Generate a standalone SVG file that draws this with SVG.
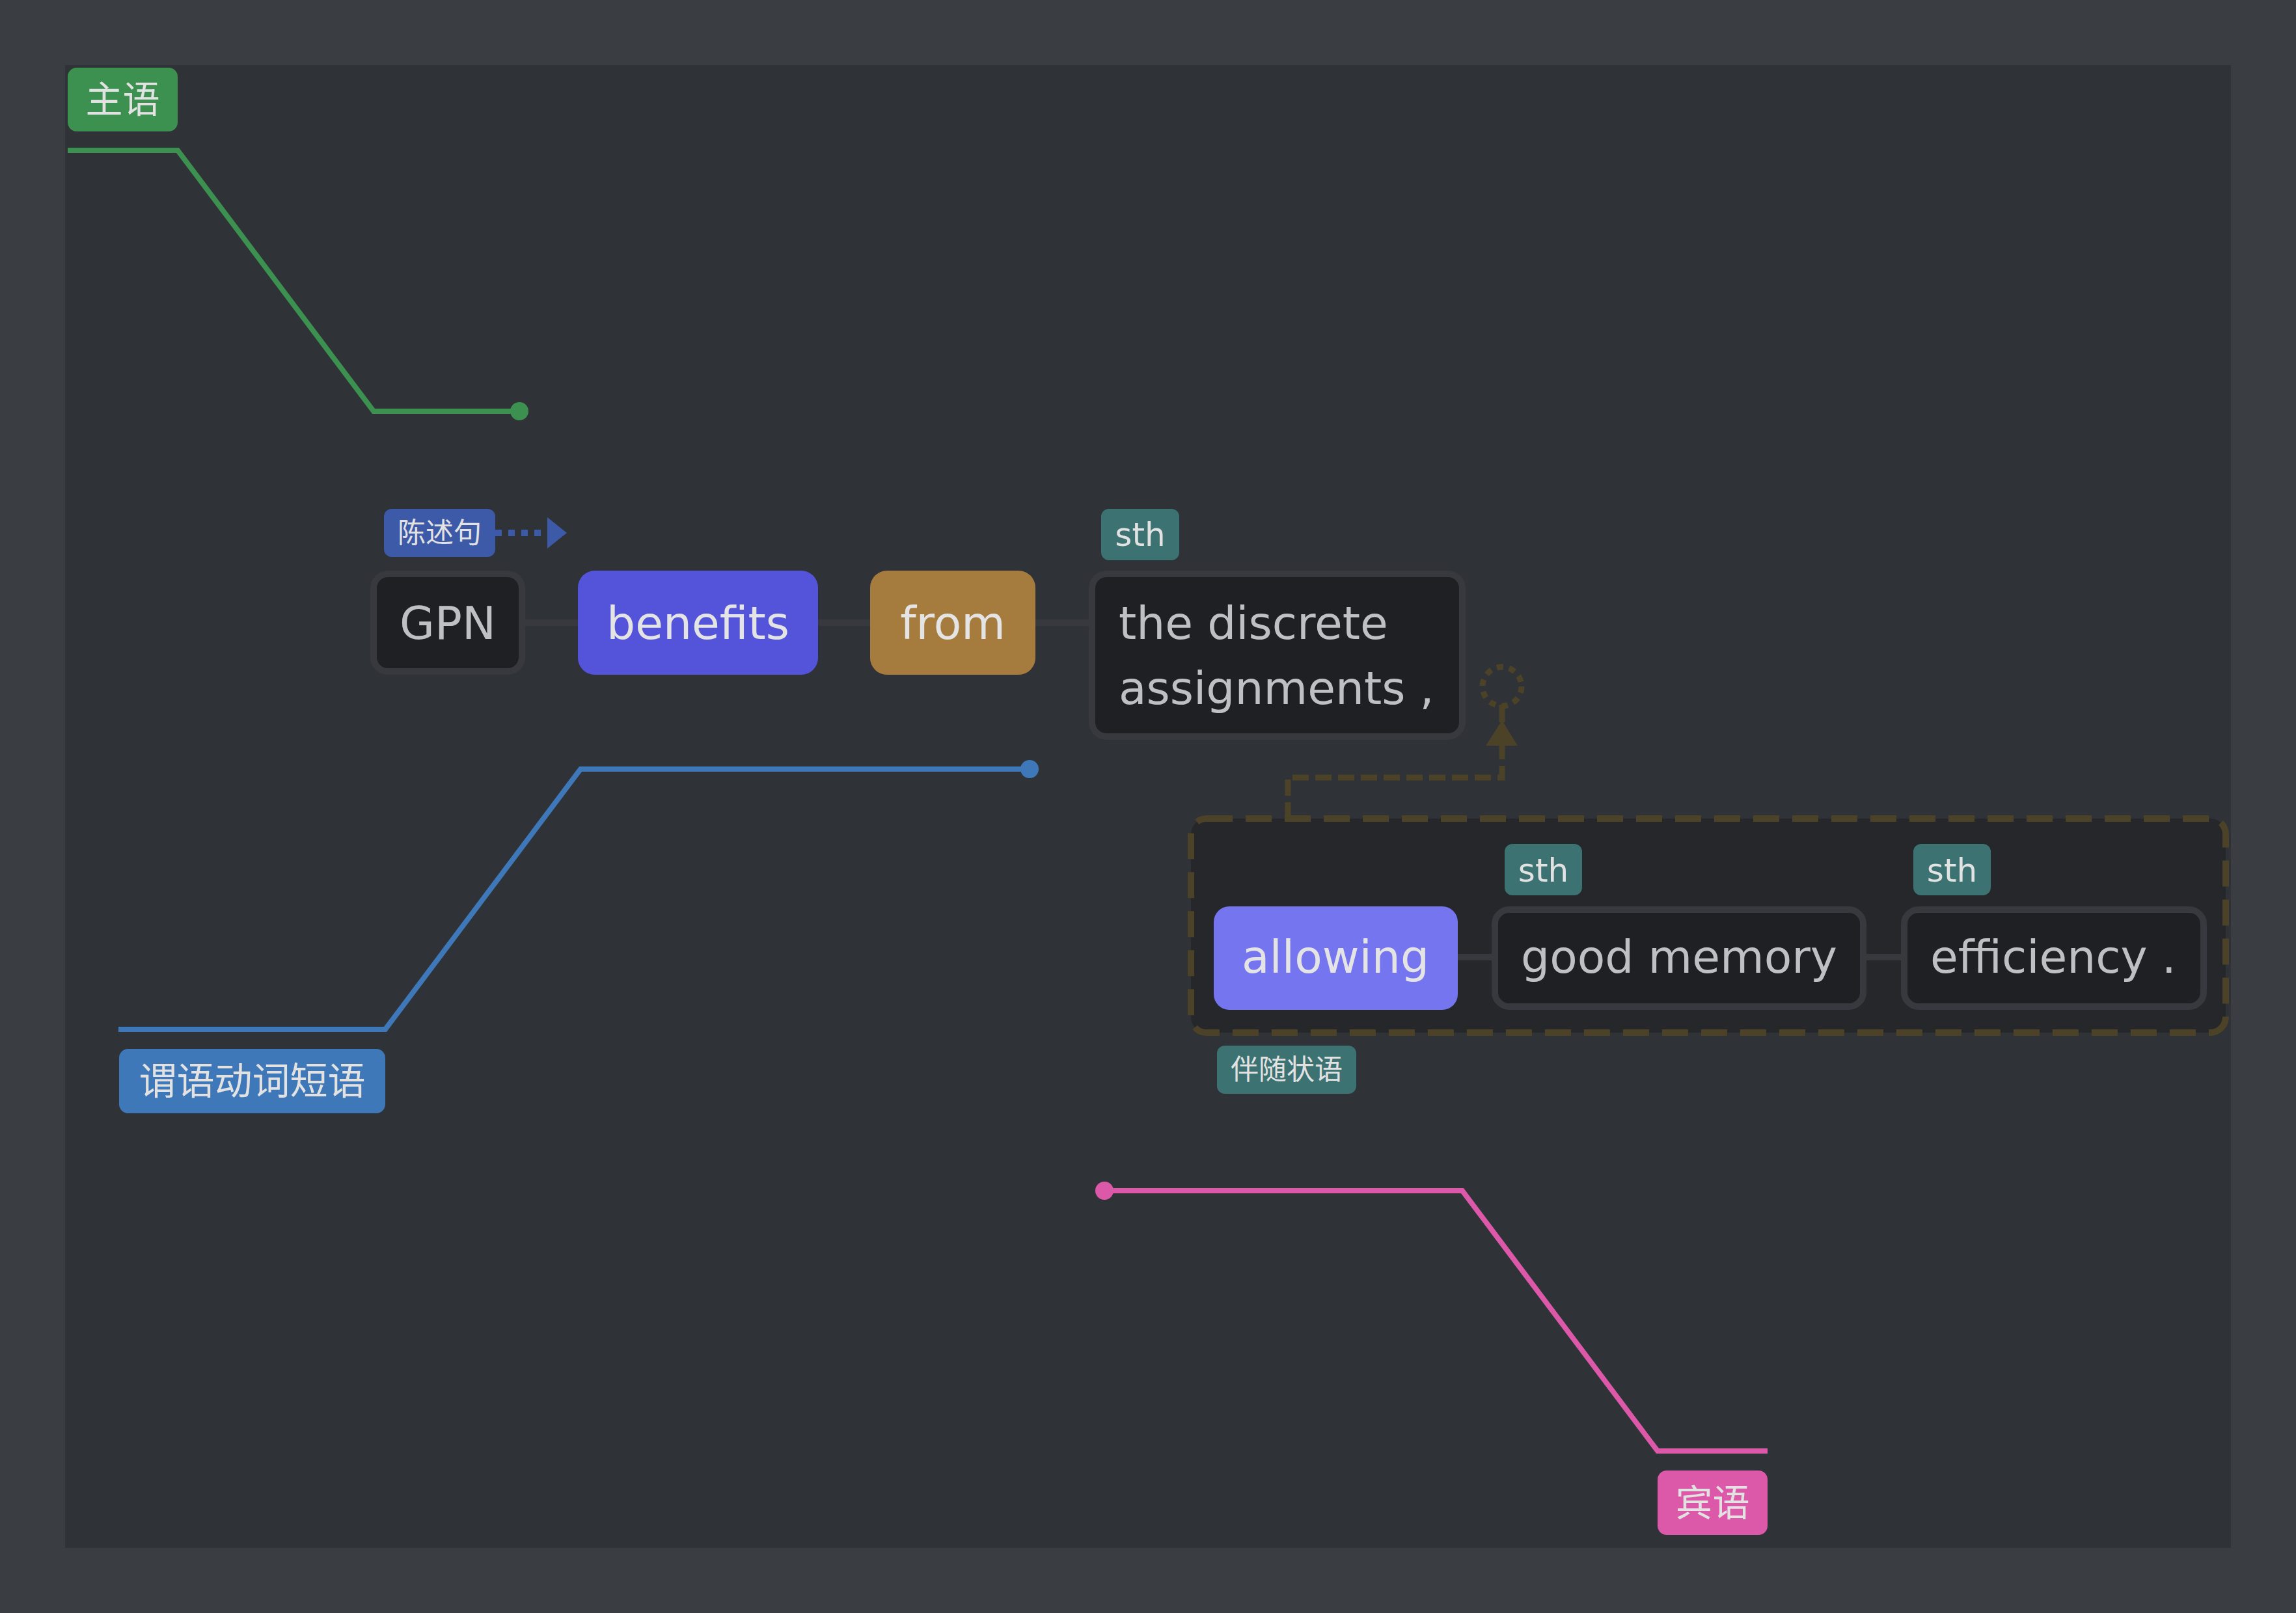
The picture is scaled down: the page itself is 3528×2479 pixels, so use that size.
<svg xmlns="http://www.w3.org/2000/svg" width="3528" height="2479" viewBox="0 0 3528 2479">
<style>
.node{stroke:#38393e;stroke-width:10;fill:#1f2024}
.ntxt{font-family:"DejaVu Sans",sans-serif;font-size:69.5px;fill:#bfc0c4}
.ctxt{font-family:"DejaVu Sans",sans-serif;font-size:69.5px;fill:#e4e4e4}
.lbl{font-family:"DejaVu Sans","Noto Sans CJK SC",sans-serif;fill:#e2e2e2;text-anchor:middle;dominant-baseline:central}
.sth{font-family:"DejaVu Sans",sans-serif;font-size:50px;fill:#e2e2e2;text-anchor:middle}
.link{stroke:#38393e;stroke-width:10;fill:none}
.olive{stroke:#4b4227;stroke-width:9;fill:none}
</style>
<rect x="0" y="0" width="3528" height="2479" fill="#3a3e42"/>
<rect x="100" y="100" width="3328" height="2279" fill="#2f3236"/>

<g id="connectors">
  <line class="link" x1="807" y1="957" x2="1673" y2="957"/>
  <rect x="1830" y="1258" width="1590" height="329" rx="24" fill="#25272b" stroke="#4b4227" stroke-width="10" stroke-dasharray="40 20"/>
  <line class="link" x1="2240" y1="1471" x2="2921" y2="1471" stroke-width="9"/>
  <path class="olive" d="M1979 1258 V1195 H2308 V1146" stroke-dasharray="25 10"/>
  <path class="olive" d="M2308 1110 V1083" stroke-width="10"/>
  <polygon points="2283,1146 2308,1107 2332,1146" fill="#4b4227"/>
  <circle class="olive" cx="2308" cy="1055" r="30" stroke-dasharray="10 9"/>
  <path d="M761 819 H841" stroke="#3d5aa8" stroke-width="10" stroke-dasharray="10 10" fill="none"/>
  <polygon points="841,795 871,819 841,843" fill="#3d5aa8"/>
  <polyline points="104,231 273,231 574,632 798,632" fill="none" stroke="#3d9150" stroke-width="8"/>
  <circle cx="798" cy="632" r="14" fill="#3d9150"/>
  <polyline points="182,1582 592,1582 892,1182 1582,1182" fill="none" stroke="#3e78b8" stroke-width="8"/>
  <circle cx="1582" cy="1182" r="14" fill="#3e78b8"/>
  <polyline points="1697,1830 2247,1830 2547,2230 2716,2230" fill="none" stroke="#dc58a8" stroke-width="8"/>
  <circle cx="1697" cy="1830" r="14" fill="#dc58a8"/>
</g>

<g id="label-subject">
  <rect x="104" y="104" width="169" height="98" rx="14" fill="#3d9150"/>
  <text class="lbl" x="188.5" y="153" font-size="57">主语</text>
</g>
<g id="label-predicate">
  <rect x="183" y="1612" width="409" height="99" rx="14" fill="#3e78b8"/>
  <text class="lbl" x="387.5" y="1661.5" font-size="58">谓语动词短语</text>
</g>
<g id="label-object">
  <rect x="2547" y="2260" width="169" height="99" rx="14" fill="#dc58a8"/>
  <text class="lbl" x="2631.5" y="2309.5" font-size="57">宾语</text>
</g>
<g id="label-declarative">
  <rect x="590" y="782" width="171" height="74" rx="12" fill="#3d5aa8"/>
  <text class="lbl" x="675.5" y="819" font-size="43">陈述句</text>
</g>
<g id="label-adverbial">
  <rect x="1870" y="1607" width="214" height="74" rx="12" fill="#3c7272"/>
  <text class="lbl" x="1977" y="1644" font-size="43">伴随状语</text>
</g>

<g id="node-gpn">
  <rect class="node" x="574" y="882" width="228" height="150" rx="22"/>
  <text class="ntxt" x="688" y="982" text-anchor="middle">GPN</text>
</g>
<g id="node-benefits">
  <rect x="888" y="877" width="369" height="160" rx="26" fill="#5454da"/>
  <text class="ctxt" x="1072.5" y="982" text-anchor="middle">benefits</text>
</g>
<g id="node-from">
  <rect x="1337" y="877" width="254" height="160" rx="26" fill="#a67c3e"/>
  <text class="ctxt" x="1464" y="982" text-anchor="middle">from</text>
</g>
<g id="node-discrete">
  <rect class="node" x="1678" y="882" width="569" height="250" rx="22"/>
  <text class="ntxt" x="1719" y="982">the discrete</text>
  <text class="ntxt" x="1719" y="1082">assignments ,</text>
</g>
<g id="tag-sth-1">
  <rect x="1692" y="782" width="120" height="79" rx="12" fill="#3c7272"/>
  <text class="sth" x="1752" y="839">sth</text>
</g>

<g id="node-allowing">
  <rect x="1865" y="1393" width="375" height="159" rx="24" fill="#7575ef"/>
  <text class="ctxt" x="2052" y="1495" text-anchor="middle">allowing</text>
</g>
<g id="node-memory">
  <rect class="node" x="2297" y="1398" width="566" height="149" rx="22"/>
  <text class="ntxt" x="2580" y="1495" text-anchor="middle">good memory</text>
</g>
<g id="node-efficiency">
  <rect class="node" x="2926" y="1398" width="460" height="149" rx="22"/>
  <text class="ntxt" x="3155" y="1495" text-anchor="middle">efficiency .</text>
</g>
<g id="tag-sth-2">
  <rect x="2312" y="1297" width="119" height="79" rx="12" fill="#3c7272"/>
  <text class="sth" x="2371.5" y="1355">sth</text>
</g>
<g id="tag-sth-3">
  <rect x="2940" y="1297" width="119" height="79" rx="12" fill="#3c7272"/>
  <text class="sth" x="2999.5" y="1355">sth</text>
</g>
</svg>
